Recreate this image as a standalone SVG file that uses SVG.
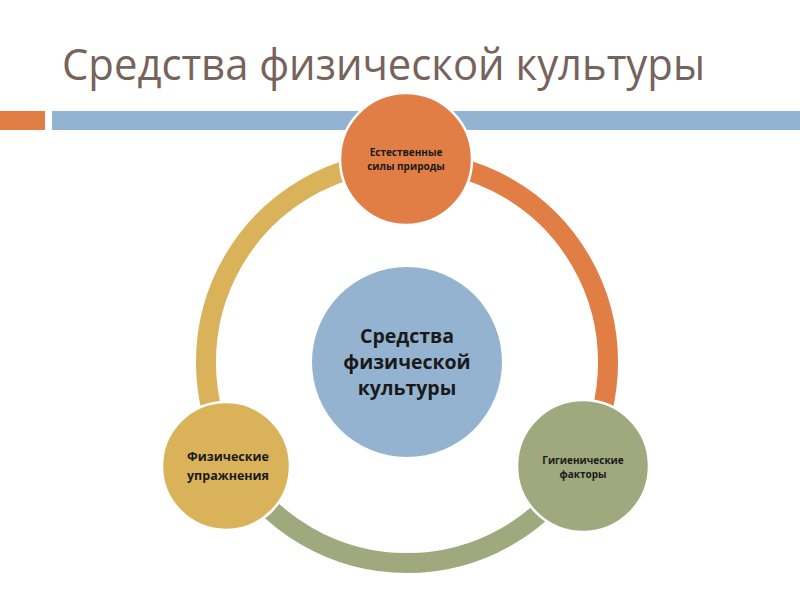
<svg xmlns="http://www.w3.org/2000/svg" width="800" height="600" viewBox="0 0 800 600">
<style>
.ring{fill:none;stroke-width:20}
.node{stroke:#ffffff;stroke-width:2.5}
.lbl{font-family:"Open Sans","Liberation Sans",sans-serif;font-weight:bold;fill:#1a1a1a;text-anchor:middle}
</style>
<rect width="800" height="600" fill="#ffffff"/>
<text x="62" y="80" font-family="Open Sans, Liberation Sans, sans-serif" font-size="44" fill="#76635c" textLength="643" lengthAdjust="spacingAndGlyphs">Средства физической культуры</text>
<rect x="0" y="111" width="45" height="19" fill="#e07e45"/>
<rect x="52" y="111" width="748" height="19" fill="#93b3d2"/>
<g id="connectors">
<path class="ring" stroke="#e07e45" d="M407 161 A201 201 0 0 1 581.1 462.5"/>
<path class="ring" stroke="#a0a87e" d="M581.1 462.5 A201 201 0 0 1 232.9 462.5"/>
<path class="ring" stroke="#d9b25a" d="M232.9 462.5 A201 201 0 0 1 407 161"/>
</g>
<g id="center">
<circle cx="407" cy="362" r="95" fill="#94b3d1"/>
<text class="lbl" font-size="19.5"><tspan x="407" y="343">Средства</tspan><tspan x="407" y="369">физической</tspan><tspan x="407" y="395">культуры</tspan></text>
</g>
<g id="node-top">
<circle class="node" cx="406" cy="159" r="66" fill="#e07e45"/>
<text class="lbl" font-size="10"><tspan x="406" y="156">Естественные</tspan><tspan x="406" y="170">силы природы</tspan></text>
</g>
<g id="node-left">
<circle class="node" cx="226" cy="466" r="64" fill="#d9b25a"/>
<text class="lbl" font-size="12.5"><tspan x="228" y="461">Физические</tspan><tspan x="228" y="480">упражнения</tspan></text>
</g>
<g id="node-right">
<circle class="node" cx="583" cy="466" r="66" fill="#a0a87e"/>
<text class="lbl" font-size="10"><tspan x="583" y="464">Гигиенические</tspan><tspan x="583" y="478">факторы</tspan></text>
</g>
</svg>
